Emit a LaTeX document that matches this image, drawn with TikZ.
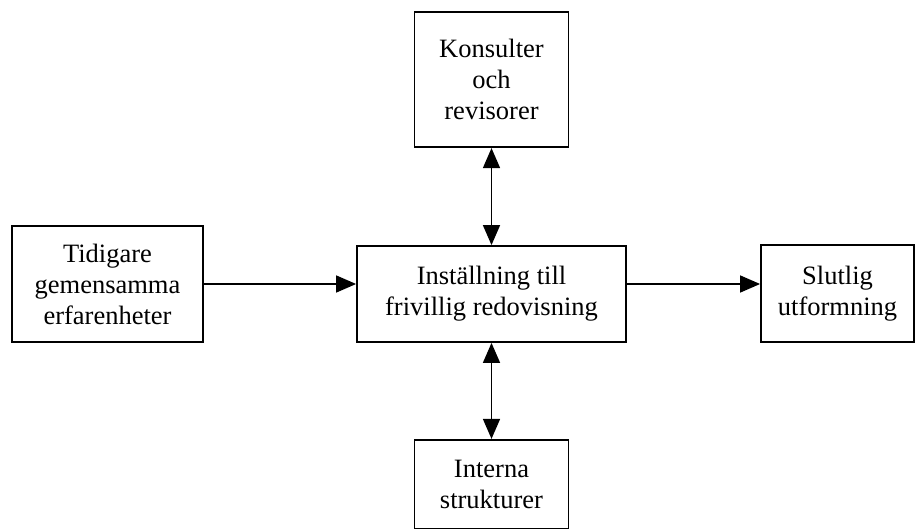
\documentclass[tikz,border=0pt]{standalone}
\usepackage{fontspec}
\setmainfont{Liberation Serif}
\usetikzlibrary{positioning, arrows.meta}

\tikzset{
    box/.style={draw, line width=1.8bp, align=center, inner sep=0pt,
        font=\fontsize{26.5bp}{31bp}\selectfont},
    pil/.style={line width=1.5bp, -{Triangle[length=20bp, width=17bp]}},
    dubbelpil/.style={line width=1.5bp, {Triangle[length=20bp, width=17bp]}-{Triangle[length=20bp, width=17bp]}}
}

\begin{document}
\begin{tikzpicture}[x=1bp, y=-1bp]
        \useasboundingbox (0,0) rectangle (920,529);
        % the central box
        \node[box, minimum width=269bp, minimum height=96bp] (ctr) at (491.5,294) {Inställning till\\frivillig redovisning};
        \node[box, minimum width=154bp, minimum height=135bp, above = 97bp of ctr] (kons) {Konsulter\\och\\revisorer};
        \node[box, minimum width=154bp, minimum height=89bp, below = 96bp of ctr] (intr) {Interna\\strukturer};
        \node[box, minimum width=191bp, minimum height=116bp] (tid) at (107.5,284) {Tidigare\\gemensamma\\erfarenheter};
        \node[box, minimum width=153bp, minimum height=97bp] (slut) at (837.5,293.5) {Slutlig\\utformning};

        % connectors
        \draw[pil] (tid.east) -- (tid.east -| ctr.west);
        \draw[pil] (ctr.east |- tid.east) -- (slut.west |- tid.east);
        \draw[dubbelpil] (kons.south) -- (ctr.north);
        \draw[dubbelpil] (ctr.south) -- (intr.north);
\end{tikzpicture}
\end{document}
